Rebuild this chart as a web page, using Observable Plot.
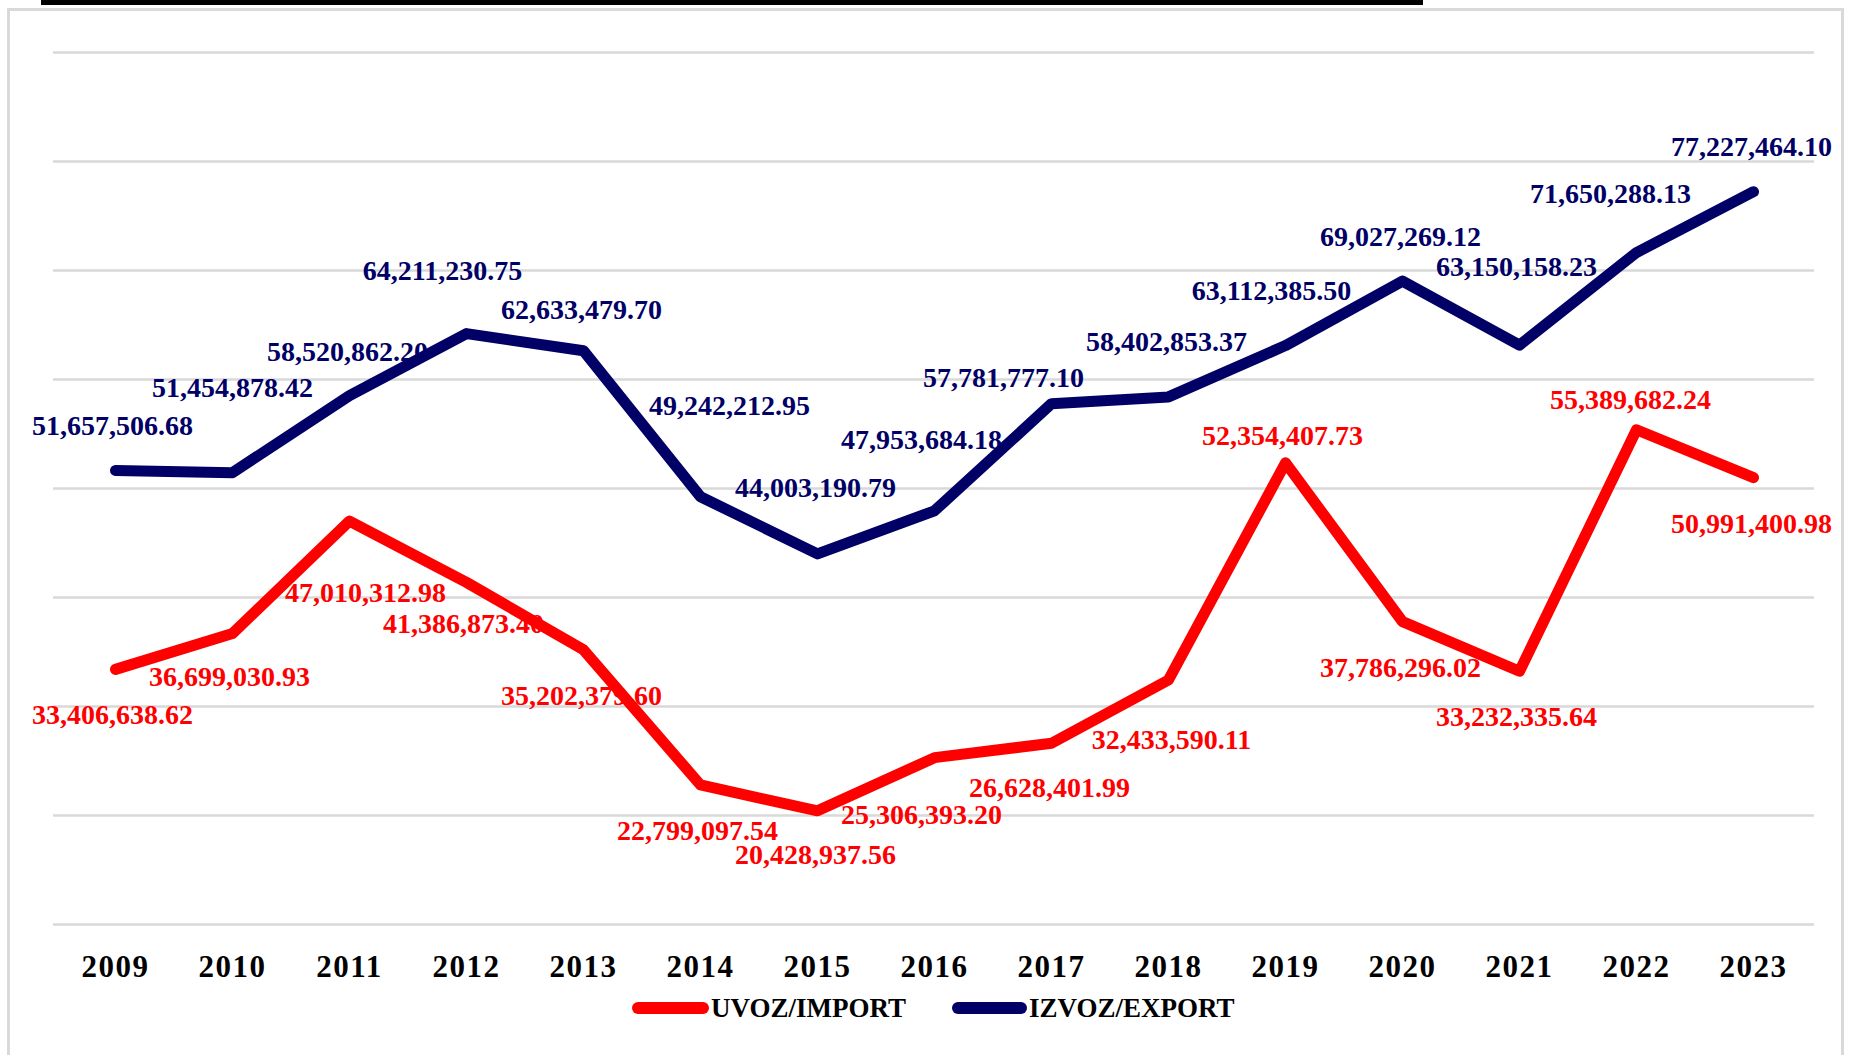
<!DOCTYPE html>
<html>
<head>
<meta charset="utf-8">
<script src="https://cdn.jsdelivr.net/npm/d3@7"></script>
<script src="https://cdn.jsdelivr.net/npm/@observablehq/plot@0.6"></script>
<style>
  html, body { margin: 0; padding: 0; background: #fff; overflow: hidden; }
  #wrap { position: relative; width: 1851px; height: 1055px; }
  #topbar { position: absolute; left: 41px; top: 0; width: 1382px; height: 5px; background: #000; }
  #frame { position: absolute; left: 7px; top: 8px; width: 1837px; height: 1060px; border: 3px solid #d9d9d9; pointer-events: none; box-sizing: border-box; }
  #chart { position: absolute; left: 0; top: 0; }
  .legend { position: absolute; top: 990px; left: 0; width: 1851px; height: 36px; font-family: "Liberation Serif", serif; font-weight: bold; font-size: 27px; color: #000; }
  .legend .sym { position: absolute; top: 12px; height: 12px; border-radius: 6px; }
  .legend .lab { position: absolute; top: 0; line-height: 36px; white-space: nowrap; }
</style>
</head>
<body>
<div id="wrap">
  <div id="topbar"></div>
  <div id="chart"></div>
  <div class="legend" id="legend"></div>
  <div id="frame"></div>
</div>
<script>
// ---- data ----
const years = [2009, 2010, 2011, 2012, 2013, 2014, 2015, 2016, 2017, 2018, 2019, 2020, 2021, 2022, 2023];
const importValues = [33406638.62, 36699030.93, 47010312.98, 41386873.40, 35202379.60, 22799097.54, 20428937.56, 25306393.20, 26628401.99, 32433590.11, 52354407.73, 37786296.02, 33232335.64, 55389682.24, 50991400.98];
const exportValues = [51657506.68, 51454878.42, 58520862.20, 64211230.75, 62633479.70, 49242212.95, 44003190.79, 47953684.18, 57781777.10, 58402853.37, 63112385.50, 69027269.12, 63150158.23, 71650288.13, 77227464.10];
const seriesNames = ["UVOZ/IMPORT", "IZVOZ/EXPORT"];
const gridTicks = [10e6, 20e6, 30e6, 40e6, 50e6, 60e6, 70e6, 80e6, 90e6];

// ---- layout (label nudges in px, relative to each point) ----
const exportLabelNudge = [[-3,-44],[0,-85],[-2,-44],[-24,-63],[-2,-41],[29,-91],[-2,-66],[-13,-71],[-48,-26],[-2,-55],[-14,-55],[-2,-44],[-3,-78],[-26,-58],[-2,-45]];
const importLabelNudge = [[-3,46],[-3,44],[16,72],[-3,42],[-2,46],[-3,46],[-2,44],[-13,57],[-2,45],[3,60],[-3,-27],[-2,46],[-3,46],[-6,-30],[-2,46]];

const RED = "#ff0000";
const NAVY = "#000066";
const FONT = "Liberation Serif, Times New Roman, serif";

const importData = years.map((y, i) => ({year: y, value: importValues[i], series: seriesNames[0]}));
const exportData = years.map((y, i) => ({year: y, value: exportValues[i], series: seriesNames[1]}));

const fmt = d3.format(",.2f");

const labelMarks = [];
function addLabels(data, nudges, color) {
  data.forEach((d, i) => {
    labelMarks.push(Plot.text([d], {
      x: "year", y: "value", text: (v) => fmt(v.value),
      dx: nudges[i][0], dy: nudges[i][1],
      fill: color, fontSize: 28, fontWeight: "bold", fontFamily: FONT,
      textAnchor: "middle", lineAnchor: "middle", ariaLabel: "data-label"
    }));
  });
}
addLabels(exportData, exportLabelNudge, NAVY);
addLabels(importData, importLabelNudge, RED);

const chart = Plot.plot({
  width: 1851,
  height: 990,
  marginTop: 52,
  marginBottom: 66,
  marginLeft: 53,
  marginRight: 37,
  style: { background: "transparent", overflow: "visible" },
  x: { type: "point", domain: years, padding: 0.5, label: null },
  y: { domain: [10e6, 90e6], label: null },
  marks: [
    Plot.gridY(gridTicks, { stroke: "#d9d9d9", strokeOpacity: 1, strokeWidth: 2.5 }),
    Plot.axisY({ ticks: [], tickSize: 0, label: null }),
    Plot.axisX({ tickSize: 0, tickPadding: 30, fontSize: 31, fontWeight: "bold", fontFamily: FONT, fill: "#000", label: null, tickFormat: (d) => String(d) }),
    Plot.line(exportData, { x: "year", y: "value", stroke: NAVY, strokeWidth: 11, strokeLinecap: "round", strokeLinejoin: "round" }),
    Plot.line(importData, { x: "year", y: "value", stroke: RED, strokeWidth: 11, strokeLinecap: "round", strokeLinejoin: "round" }),
    ...labelMarks
  ]
});
document.getElementById("chart").appendChild(chart);

// letter spacing tweaks to mimic the original font widths
d3.select(chart).selectAll('g[aria-label="data-label"] text').style("letter-spacing", "0.8px");
d3.select(chart).selectAll('g[aria-label="x-axis tick label"] text').style("letter-spacing", "1.5px");

// ---- legend ----
const legend = d3.select("#legend");
const legendItems = [
  { name: seriesNames[0], color: RED, symLeft: 632, symWidth: 77, textLeft: 711 },
  { name: seriesNames[1], color: NAVY, symLeft: 952, symWidth: 75, textLeft: 1029 }
];
legendItems.forEach(it => {
  legend.append("div").attr("class", "sym").style("left", it.symLeft + "px").style("width", it.symWidth + "px").style("background", it.color);
  legend.append("div").attr("class", "lab").style("left", it.textLeft + "px").text(it.name);
});
</script>
</body>
</html>
